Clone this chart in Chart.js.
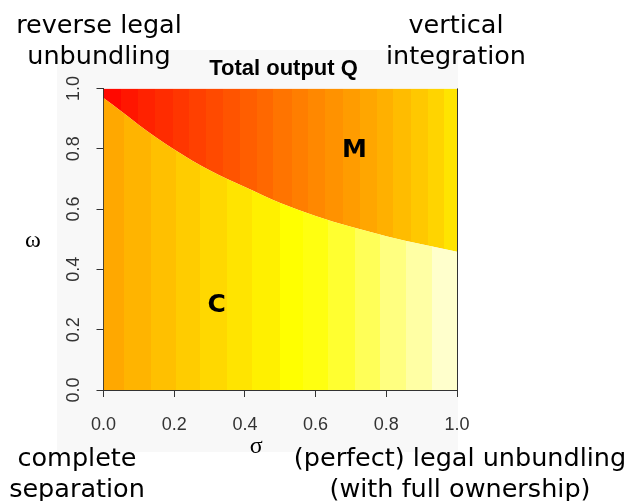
<!DOCTYPE html>
<html>
<head>
<meta charset="utf-8">
<script src="https://cdn.jsdelivr.net/npm/chart.js@4.4.1/dist/chart.umd.min.js"></script>
<style>
body { margin: 0; background: #fff; }
#wrap { position: relative; width: 630px; height: 501px; overflow: hidden; }
#panel { position: absolute; left: 57px; top: 50px; width: 401px; height: 402px; background: #f8f8f8; }
#myChart { position: absolute; left: 0; top: 0; }
.note { position: absolute; font-family: "DejaVu Sans", Verdana, sans-serif; font-size: 25.5px; line-height: 31px; text-align: center; color: #000; white-space: nowrap; }
.greek { position: absolute; font-family: "Liberation Serif", "DejaVu Serif", serif; font-size: 24px; color: #000; }
</style>
</head>
<body>
<div id="wrap">
  <div id="panel"></div>
  <canvas id="myChart" width="630" height="501"></canvas>
  <div class="note" style="left:0px; top:9px; width:198px;">reverse legal<br>unbundling</div>
  <div class="note" style="left:356px; top:9px; width:200px;">vertical<br>integration</div>
  <div class="note" style="left:0px; top:442px; width:154px;">complete<br>separation</div>
  <div class="note" style="left:260px; top:442px; width:400px;">(perfect) legal unbundling<br>(with full ownership)</div>
  <div class="greek" style="left:25px; top:226px;">ω</div>
</div>
<script>
// regime boundary: above it = M, below it = C
const boundarySigma = [0, 0.05, 0.1, 0.15, 0.2, 0.25, 0.3, 0.35, 0.4, 0.45, 0.5, 0.6, 0.7, 0.8, 0.9, 1.0];
const boundaryOmega = [0.968, 0.924, 0.879, 0.836, 0.797, 0.761, 0.729, 0.700, 0.673, 0.646, 0.620, 0.577, 0.541, 0.510, 0.483, 0.458];

// colour bands (sigma edges) of Q in each regime
const mEdges = [0, 0.049, 0.098, 0.146, 0.196, 0.243, 0.290, 0.339, 0.386, 0.433, 0.480, 0.532, 0.579, 0.627, 0.677, 0.726, 0.773, 0.820, 0.870, 0.917, 0.964, 1];
const mColors = ['#ff0800','#ff1600','#ff2200','#ff2c00','#ff3600','#ff4000','#ff4a00','#ff5400','#ff5e00','#ff6800','#ff7400',
                 '#ff7e00','#ff8800','#ff9200','#ff9c00','#ffa600','#ffb000','#ffbc00','#ffc800','#ffd400','#ffe400'];
const cEdges = [0, 0.058, 0.134, 0.205, 0.273, 0.349, 0.419, 0.499, 0.565, 0.636, 0.711, 0.782, 0.856, 0.928, 1];
const cColors = ['#ffa800','#ffb400','#ffc000','#ffcc00','#ffd800','#ffe400','#fff000',
                 '#ffff00','#ffff10','#ffff30','#ffff58','#ffff80','#ffffa4','#ffffcc'];

const regionNames = ['M', 'C'];
const regionSigma = [0.71, 0.32];
const regionOmega = [0.795, 0.28];

const tickStep = 0.2;

const ctx = document.getElementById('myChart');

function bands(chart, edges, colors) {
  const area = chart.chartArea;
  if (!area) return colors[0];
  const xs = chart.scales.x;
  const w = area.right - area.left;
  const g = chart.ctx.createLinearGradient(area.left, 0, area.right, 0);
  for (let i = 0; i < colors.length; i++) {
    let a = (xs.getPixelForValue(edges[i]) - area.left) / w;
    let b = (xs.getPixelForValue(edges[i + 1]) - area.left) / w;
    a = Math.min(Math.max(a, 0), 1);
    b = Math.min(Math.max(b, 0), 1);
    g.addColorStop(a, colors[i]);
    g.addColorStop(b, colors[i]);
  }
  return g;
}

const pts = boundarySigma.map((s, i) => ({ x: s, y: boundaryOmega[i] }));

// M / C labels and the right edge of the box
const frame = {
  id: 'frame',
  afterDatasetsDraw(chart) {
    const c = chart.ctx;
    const a = chart.chartArea;
    const xs = chart.scales.x, ys = chart.scales.y;
    c.save();
    c.fillStyle = '#000';
    c.font = 'bold 25px "DejaVu Sans"';
    c.textAlign = 'center';
    c.textBaseline = 'middle';
    regionNames.forEach((t, i) => {
      c.fillText(t, xs.getPixelForValue(regionSigma[i]), ys.getPixelForValue(regionOmega[i]));
    });
    c.strokeStyle = '#333';
    c.lineWidth = 1;
    c.beginPath();
    c.moveTo(Math.round(a.right) + 0.5, a.top);
    c.lineTo(Math.round(a.right) + 0.5, a.bottom);
    c.stroke();
    c.restore();
  }
};

const axisStyle = {
  type: 'linear',
  min: 0,
  max: 1,
  grid: { drawOnChartArea: false, drawTicks: true, tickLength: 7, tickColor: '#333' },
  border: { display: true, color: '#333', width: 1 }
};

new Chart(ctx, {
  type: 'line',
  data: {
    datasets: [
      {
        label: 'C',
        data: pts,
        fill: 'origin',
        backgroundColor: (c) => bands(c.chart, cEdges, cColors),
        borderWidth: 0,
        pointRadius: 0,
        cubicInterpolationMode: 'monotone'
      },
      {
        label: 'M',
        data: pts,
        fill: 'end',
        backgroundColor: (c) => bands(c.chart, mEdges, mColors),
        borderWidth: 0,
        pointRadius: 0,
        cubicInterpolationMode: 'monotone'
      }
    ]
  },
  options: {
    responsive: false,
    animation: false,
    events: [],
    layout: { padding: { left: 0, right: 173, top: 0, bottom: 40 } },
    plugins: {
      legend: { display: false },
      tooltip: { enabled: false },
      title: {
        display: true,
        text: '\u00a0'.repeat(18) + 'Total output Q',
        color: '#000',
        font: { family: 'Liberation Sans', size: 22, weight: 'bold' },
        padding: { top: 56, bottom: 6 }
      }
    },
    scales: {
      x: Object.assign({}, axisStyle, {
        afterFit: (s) => { s.height = 71; },
        ticks: {
          stepSize: tickStep,
          color: '#333',
          padding: 17,
          font: { family: 'Liberation Sans', size: 18 },
          callback: (v) => Number(v).toFixed(1)
        },
        title: {
          display: true,
          text: 'σ' + '\u00a0'.repeat(8),
          color: '#000',
          font: { family: 'Liberation Serif', size: 24 },
          padding: { top: 0, bottom: 0 }
        }
      }),
      y: Object.assign({}, axisStyle, {
        afterFit: (s) => { s.width = 103.5; },
        ticks: {
          stepSize: tickStep,
          color: '#333',
          padding: 10,
          minRotation: 90,
          maxRotation: 90,
          crossAlign: 'center',
          font: { family: 'Liberation Sans', size: 18 },
          callback: (v) => Number(v).toFixed(1)
        }
      })
    }
  },
  plugins: [frame]
});
</script>
</body>
</html>
